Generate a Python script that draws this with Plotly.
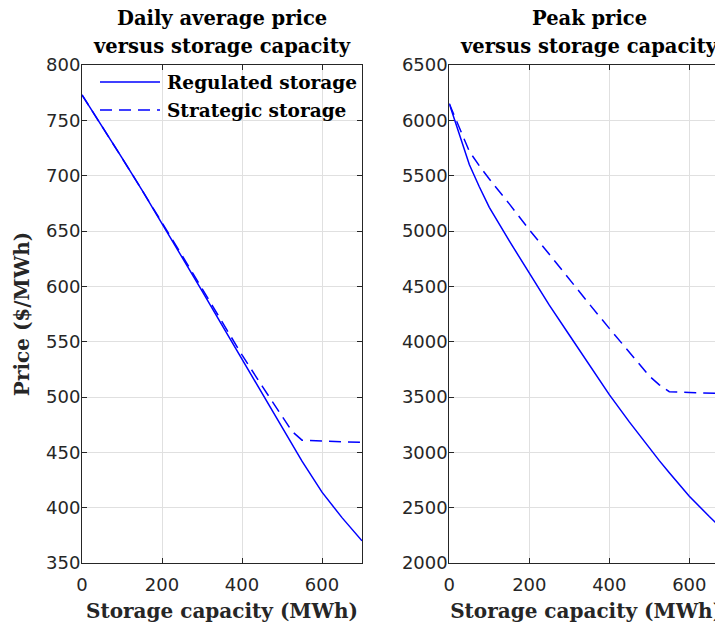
import plotly.graph_objects as go

# ---------------- data ----------------
capacity = [0, 50, 100, 150, 200, 250, 300, 350, 400, 450, 500, 525, 550, 600, 650, 700]

avg_regulated = [773, 745, 716, 687, 657, 627, 596, 565, 534, 503, 472, 457, 442, 414, 391, 370]
avg_strategic = [773, 745, 716, 687, 658, 628, 598, 568, 538, 510, 482, 469, 461, 460, 459.5, 459]

peak_capacity = [0, 25, 50, 75, 100, 150, 200, 250, 300, 350, 400, 450, 500, 525, 550, 600, 650, 700]
peak_regulated = [6150, 5870, 5600, 5400, 5214, 4910, 4615, 4330, 4060, 3795, 3521, 3275, 3037,
                  2925, 2815, 2604, 2420, 2245]
peak_strategic = [6150, 5940, 5720, 5590, 5470, 5245, 5011, 4790, 4560, 4340, 4120, 3910, 3690,
                  3610, 3548, 3540, 3535, 3530]

series_names = ["Regulated storage", "Strategic storage"]
x_ticks = [0, 200, 400, 600]
avg_ticks = [350, 400, 450, 500, 550, 600, 650, 700, 750, 800]
peak_ticks = [2000, 2500, 3000, 3500, 4000, 4500, 5000, 5500, 6000, 6500]

# ---------------- layout constants (page pixels) ----------------
PAGE_W, PAGE_H = 723, 626
OFF = 8                      # page body margin
W, H = PAGE_W - OFF, PAGE_H - OFF


def px(p):
    return (p - OFF) / W


def py(p):
    return 1 - (p - OFF) / H


top_px, bot_px = 65, 563
l1, r1 = 82, 362
l2 = 449.3
px_per_unit = (r1 - l1) / 700.0
x2_max = (PAGE_W - l2) / px_per_unit

BLUE = "rgb(0,0,255)"
AX = "#262626"
GRID = "#e0e0e0"
SERIF = "DejaVu Serif"
SANS = "DejaVu Sans"
DASH = "12px,7px"
styles = [dict(color=BLUE, width=1.5), dict(color=BLUE, width=1.5, dash=DASH)]

fig = go.Figure()
fig.add_trace(go.Scatter(x=capacity, y=avg_regulated, mode="lines", name=series_names[0],
                         line=styles[0], xaxis="x", yaxis="y", showlegend=False))
fig.add_trace(go.Scatter(x=capacity, y=avg_strategic, mode="lines", name=series_names[1],
                         line=styles[1], xaxis="x", yaxis="y", showlegend=False))
fig.add_trace(go.Scatter(x=peak_capacity, y=peak_regulated, mode="lines", name=series_names[0],
                         line=styles[0], xaxis="x2", yaxis="y2", showlegend=False))
fig.add_trace(go.Scatter(x=peak_capacity, y=peak_strategic, mode="lines", name=series_names[1],
                         line=styles[1], xaxis="x2", yaxis="y2", showlegend=False))

ydom = [py(bot_px), py(top_px)]
tickfont = dict(family=SANS, size=18, color=AX)
axtitle_font = dict(family=SERIF, size=20, color=AX)

common = dict(showline=True, linecolor=AX, linewidth=1, ticks="inside", ticklen=5,
              tickcolor=AX, showgrid=True, gridcolor=GRID, gridwidth=1, zeroline=False,
              tickfont=tickfont, automargin=False)

fig.update_layout(
    width=W, height=H,
    margin=dict(l=0, r=0, t=0, b=0, autoexpand=False),
    paper_bgcolor="white", plot_bgcolor="white",
    showlegend=False,
    xaxis=dict(domain=[px(l1), px(r1)], range=[0, 700], mirror="ticks", anchor="y",
               tickvals=x_ticks, ticklabelstandoff=5,
               title=dict(text="<b>Storage capacity (MWh)</b>", font=axtitle_font, standoff=10),
               **common),
    yaxis=dict(domain=ydom, range=[350, 800], mirror="ticks", anchor="x", tickvals=avg_ticks,
               ticklabelstandoff=-3,
               title=dict(text="<b>Price ($/MWh)</b>", font=axtitle_font, standoff=11),
               **common),
    xaxis2=dict(domain=[px(l2), 1.0], range=[0, x2_max], mirror="ticks", anchor="y2",
                tickvals=x_ticks, ticklabelstandoff=5,
                title=dict(text="<b>Storage capacity (MWh)</b>", font=axtitle_font, standoff=10),
                **common),
    yaxis2=dict(domain=ydom, range=[2000, 6500], mirror=False, anchor="x2", tickvals=peak_ticks,
                ticklabelstandoff=-3, **common),
)

# custom legend (MATLAB-like, long line samples, no box)
leg_rows = [82, 110]
for name, st, ry in zip(series_names, styles, leg_rows):
    fig.add_shape(type="line", xref="paper", yref="paper", x0=px(100), x1=px(160),
                  y0=py(ry), y1=py(ry), line=st)
    fig.add_annotation(text="<b>" + name + "</b>", x=px(165), xref="paper", xanchor="left",
                       y=py(ry), yref="paper", yanchor="middle", showarrow=False,
                       font=dict(family=SERIF, size=18.5, color="black"))

# titles as annotations (two lines each)
c1 = px((l1 + r1) / 2)
c2 = px((l2 + l2 + (r1 - l1)) / 2)
tfont = dict(family=SERIF, size=19.5, color="black")
for cx, lines in [(c1, ["Daily average price", "versus storage capacity"]),
                  (c2, ["Peak price", "versus storage capacity"])]:
    for i, t in enumerate(lines):
        fig.add_annotation(text="<b>" + t + "</b>", x=cx, xref="paper", xanchor="center",
                           y=py(19 + 28 * i), yref="paper", yanchor="middle",
                           showarrow=False, font=tfont)

fig.write_html("out.html")
